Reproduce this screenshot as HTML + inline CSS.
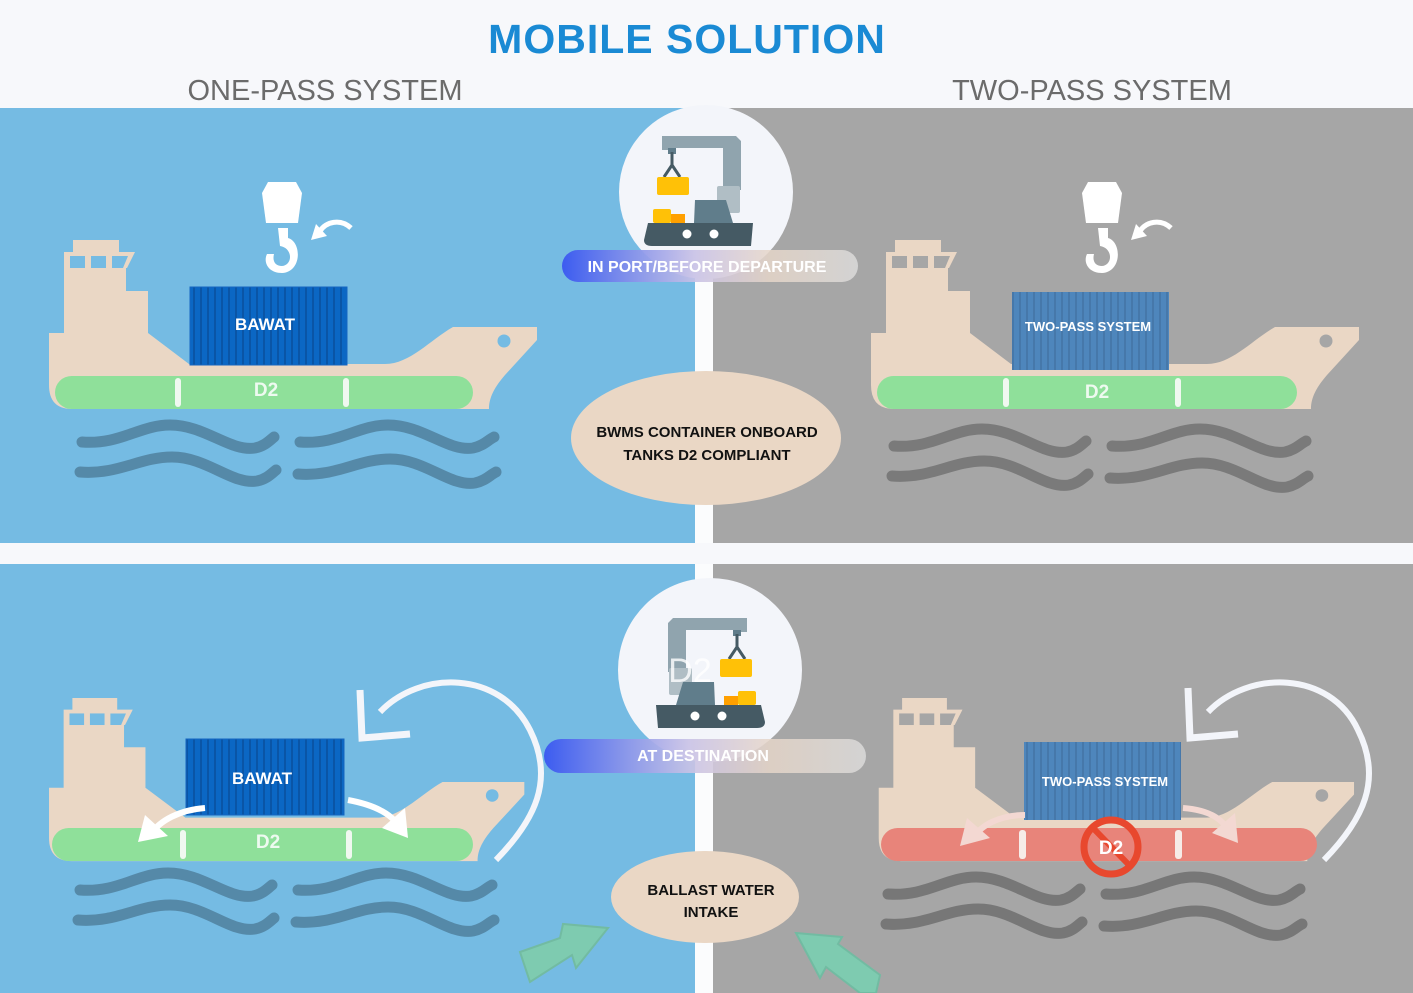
<!DOCTYPE html>
<html><head><meta charset="utf-8"><style>
html,body{margin:0;padding:0;background:#f7f8fb;}
svg{display:block;}
</style></head><body>
<svg width="1413" height="993" viewBox="0 0 1413 993" xmlns="http://www.w3.org/2000/svg" font-family="Liberation Sans, sans-serif">
<defs>
<pattern id="stripe" width="7" height="10" patternUnits="userSpaceOnUse">
<rect width="7" height="10" fill="#0b67c4"/><rect x="4" width="2" height="10" fill="#0a55a6"/>
</pattern>
<pattern id="stripe2" width="7" height="10" patternUnits="userSpaceOnUse">
<rect width="7" height="10" fill="#4e86bc"/><rect x="4" width="2" height="10" fill="#4678aa"/>
</pattern>
<linearGradient id="pill" x1="0" x2="1" y1="0" y2="0">
<stop offset="0" stop-color="#3c5cf0"/><stop offset="0.45" stop-color="#c9c2e6" stop-opacity="0.9"/><stop offset="0.7" stop-color="#e6d6c9" stop-opacity="0.85"/><stop offset="1" stop-color="#d8d8d8" stop-opacity="0.9"/>
</linearGradient>
<g id="ship">
<path d="M73,240 H119 V252 H135 L127,268 H126 V291 H148 V333 L189,364 H385 C410,364 430,340 453,327 H537 V340 L505,375 C492,390 489,400 489,409 H72 Q49,409 49,385 V333 H64 V252 H73 Z" fill="#ead7c5"/>
<circle cx="504" cy="341" r="6.5"/>
<rect x="70" y="256" width="15" height="12"/><rect x="91" y="256" width="15" height="12"/><path d="M112,256 H128 L123,268 H112 Z"/>
</g>
<g id="waves" fill="none" stroke-width="11" stroke-linecap="round">
<path d="M82,442 C120,445 140,425 170,425 C205,425 230,452 255,448 C265,446 270,440 274,437"/>
<path d="M300,442 C338,445 358,425 388,425 C423,425 448,452 473,448 C483,446 488,440 494,437"/>
<path d="M80,472 C118,475 140,457 172,457 C207,457 232,485 257,481 C267,479 272,473 276,470"/>
<path d="M298,474 C336,477 358,459 390,459 C425,459 450,487 475,483 C485,481 490,475 496,472"/>
</g>
<g id="hook" fill="#fff">
<path d="M268,182 H296 L302,193 L298,223 H266 L262,193 Z"/>
<path d="M278,228 H288 V238 C302,242 302,272 282,273 C268,273 263,262 267,254 L274,254 C272,262 276,266 282,266 C293,265 293,248 280,246 Z"/>
<path d="M351,228 C340,218 326,222 320,231" fill="none" stroke="#fff" stroke-width="5"/>
<path d="M311,240 L316,224 L327,236 Z"/>
</g>
<g id="crane">
<path d="M662,136 H736 L741,141 V190 H723 V148 H676 V150 H662 Z" fill="#90a4ae"/>
<rect x="717" y="186" width="23" height="27" rx="2" fill="#b0bec5"/>
<rect x="668" y="148" width="8" height="6" fill="#607d8b"/>
<path d="M672,152 V165 L664,177 M672,165 L680,177" stroke="#455a64" stroke-width="3" fill="none"/>
<rect x="657" y="177" width="32" height="18" rx="2" fill="#ffc107"/>
<rect x="653" y="209" width="18" height="14" rx="2" fill="#ffc107"/>
<rect x="671" y="214" width="14" height="9" fill="#ffa000"/>
<path d="M695,200 H726 L733,223 H694 Z" fill="#607d8b"/>
<path d="M648,223 H753 L751,246 H652 Q644,246 644,240 Z" fill="#455a64"/>
<circle cx="687" cy="234" r="4.5" fill="#fff"/><circle cx="714" cy="234" r="4.5" fill="#fff"/>
</g>
</defs>

<text x="687" y="53" text-anchor="middle" font-size="41" font-weight="bold" fill="#1a8ad4" letter-spacing="1">MOBILE SOLUTION</text>
<text x="325" y="100" text-anchor="middle" font-size="29" fill="#6b6b6b">ONE-PASS SYSTEM</text>
<text x="1092" y="100" text-anchor="middle" font-size="29" fill="#6b6b6b">TWO-PASS SYSTEM</text>

<rect x="0" y="108" width="695" height="435" fill="#75bbe3"/>
<rect x="713" y="108" width="700" height="435" fill="#a6a6a6"/>
<rect x="0" y="564" width="695" height="429" fill="#75bbe3"/>
<rect x="713" y="564" width="700" height="429" fill="#a6a6a6"/>

<!-- top left -->
<use href="#ship" fill="#75bbe3"/>
<rect x="55" y="376" width="418" height="33" rx="16.5" fill="#8fe09a"/>
<rect x="175" y="378" width="6" height="29" rx="3" fill="#f0f8f0"/><rect x="343" y="378" width="6" height="29" rx="3" fill="#f0f8f0"/>
<text x="266" y="396" text-anchor="middle" font-size="19" font-weight="bold" fill="#eefaf0">D2</text>
<rect x="190" y="287" width="157" height="78" fill="url(#stripe)" stroke="#1565c0"/>
<text x="265" y="330" text-anchor="middle" font-size="17" font-weight="bold" fill="#fff">BAWAT</text>
<use href="#hook"/>
<use href="#waves" stroke="#5589a8"/>

<!-- top right -->
<use href="#ship" fill="#a6a6a6" transform="translate(822,0)"/>
<rect x="877" y="376" width="420" height="33" rx="16.5" fill="#8fe09a"/>
<rect x="1003" y="378" width="6" height="29" rx="3" fill="#f0f8f0"/><rect x="1175" y="378" width="6" height="29" rx="3" fill="#f0f8f0"/>
<text x="1097" y="398" text-anchor="middle" font-size="19" font-weight="bold" fill="#eefaf0">D2</text>
<rect x="1012" y="292" width="157" height="78" fill="url(#stripe2)"/>
<text x="1088" y="331" text-anchor="middle" font-size="13" font-weight="bold" fill="#fff">TWO-PASS SYSTEM</text>
<use href="#hook" transform="translate(820,0)"/>
<use href="#waves" stroke="#7a7a7a" transform="translate(812,4)"/>

<!-- bottom left -->
<g transform="translate(1.3,466.4) scale(0.974,0.965)"><use href="#ship" fill="#75bbe3"/></g>
<rect x="52" y="828" width="421" height="33" rx="16.5" fill="#8fe09a"/>
<rect x="180" y="830" width="6" height="29" rx="3" fill="#f0f8f0"/><rect x="346" y="830" width="6" height="29" rx="3" fill="#f0f8f0"/>
<text x="268" y="848" text-anchor="middle" font-size="19" font-weight="bold" fill="#eefaf0">D2</text>
<rect x="186" y="739" width="158" height="76" fill="url(#stripe)" stroke="#1565c0"/>
<text x="262" y="784" text-anchor="middle" font-size="17" font-weight="bold" fill="#fff">BAWAT</text>
<path d="M205,808 C180,810 160,820 150,835" fill="none" stroke="#fff" stroke-width="6"/>
<path d="M138,842 L145,815 L168,836 Z" fill="#fff"/>
<path d="M348,800 C375,805 395,815 400,830" fill="none" stroke="#fff" stroke-width="6"/>
<path d="M408,838 L382,828 L405,808 Z" fill="#fff"/>
<use href="#waves" stroke="#5589a8" transform="translate(-2,448)"/>
<path d="M380,712 C420,670 500,670 530,730 C555,780 535,820 496,860" fill="none" stroke="#f3f5fa" stroke-width="6"/>
<path d="M360,690 L362,738 L410,734" fill="none" stroke="#f3f5fa" stroke-width="7"/>

<!-- bottom right -->
<g transform="translate(831,466.4) scale(0.974,0.965)"><use href="#ship" fill="#a6a6a6"/></g>
<rect x="881" y="828" width="436" height="33" rx="16.5" fill="#e8847a"/>
<rect x="1019" y="830" width="7" height="29" rx="3" fill="#f6ece8"/><rect x="1175" y="830" width="7" height="29" rx="3" fill="#f6ece8"/>
<rect x="1024" y="742" width="157" height="78" fill="url(#stripe2)"/>
<text x="1105" y="786" text-anchor="middle" font-size="13" font-weight="bold" fill="#fff">TWO-PASS SYSTEM</text>
<path d="M1025,815 C1000,815 980,825 972,840" fill="none" stroke="#f3d8d2" stroke-width="6"/>
<path d="M960,846 L967,818 L990,838 Z" fill="#f3d8d2"/>
<path d="M1183,808 C1210,810 1225,820 1230,835" fill="none" stroke="#f3d8d2" stroke-width="6"/>
<path d="M1238,843 L1212,833 L1235,813 Z" fill="#f3d8d2"/>
<circle cx="1111" cy="847" r="27" fill="none" stroke="#e8482e" stroke-width="7"/>
<line x1="1093" y1="828" x2="1130" y2="866" stroke="#e8482e" stroke-width="6"/>
<text x="1111" y="854" text-anchor="middle" font-size="19" font-weight="bold" fill="#fff">D2</text>
<use href="#waves" stroke="#777" transform="translate(806,452)"/>
<path d="M1208,712 C1248,670 1330,670 1358,730 C1383,780 1363,820 1324,860" fill="none" stroke="#f3f5fa" stroke-width="6"/>
<path d="M1188,688 L1190,738 L1238,734" fill="none" stroke="#f3f5fa" stroke-width="7"/>

<!-- center stripe -->
<rect x="695" y="108" width="18" height="885" fill="#fbfcfd"/>
<rect x="0" y="543" width="1413" height="21" fill="#f7f8fb"/>

<!-- top center -->
<circle cx="706" cy="192" r="87" fill="#f3f5fa"/>
<use href="#crane"/>
<rect x="562" y="250" width="296" height="32" rx="16" fill="url(#pill)"/>
<text x="707" y="272" text-anchor="middle" font-size="16" font-weight="bold" fill="#fff">IN PORT/BEFORE DEPARTURE</text>
<ellipse cx="706" cy="438" rx="135" ry="67" fill="#ead7c5"/>
<text x="707" y="437" text-anchor="middle" font-size="15" font-weight="bold" fill="#111">BWMS CONTAINER ONBOARD</text>
<text x="707" y="460" text-anchor="middle" font-size="15" font-weight="bold" fill="#111">TANKS D2 COMPLIANT</text>

<!-- bottom center -->
<circle cx="710" cy="670" r="92" fill="#f3f5fa"/>
<g transform="translate(1409,482) scale(-1,1)"><use href="#crane"/></g>
<text x="690" y="682" text-anchor="middle" font-size="34" fill="#fff" fill-opacity="0.8">D2</text>
<rect x="544" y="739" width="322" height="34" rx="17" fill="url(#pill)"/>
<text x="703" y="761" text-anchor="middle" font-size="16" font-weight="bold" fill="#fff">AT DESTINATION</text>
<ellipse cx="705" cy="897" rx="94" ry="46" fill="#ead7c5"/>
<text x="711" y="895" text-anchor="middle" font-size="15" font-weight="bold" fill="#111">BALLAST WATER</text>
<text x="711" y="917" text-anchor="middle" font-size="15" font-weight="bold" fill="#111">INTAKE</text>

<!-- green arrows -->
<path d="M520,952 L560,938 L563,924 L608,928 L576,968 L572,955 L530,982 Z" fill="#7ecbb0" stroke="#72bba2" stroke-width="2"/>
<path d="M796,933 L842,937 L838,944 L880,975 L876,993 L860,993 L826,967 L820,978 Z" fill="#7ecbb0" stroke="#72bba2" stroke-width="2"/>
</svg>
</body></html>
